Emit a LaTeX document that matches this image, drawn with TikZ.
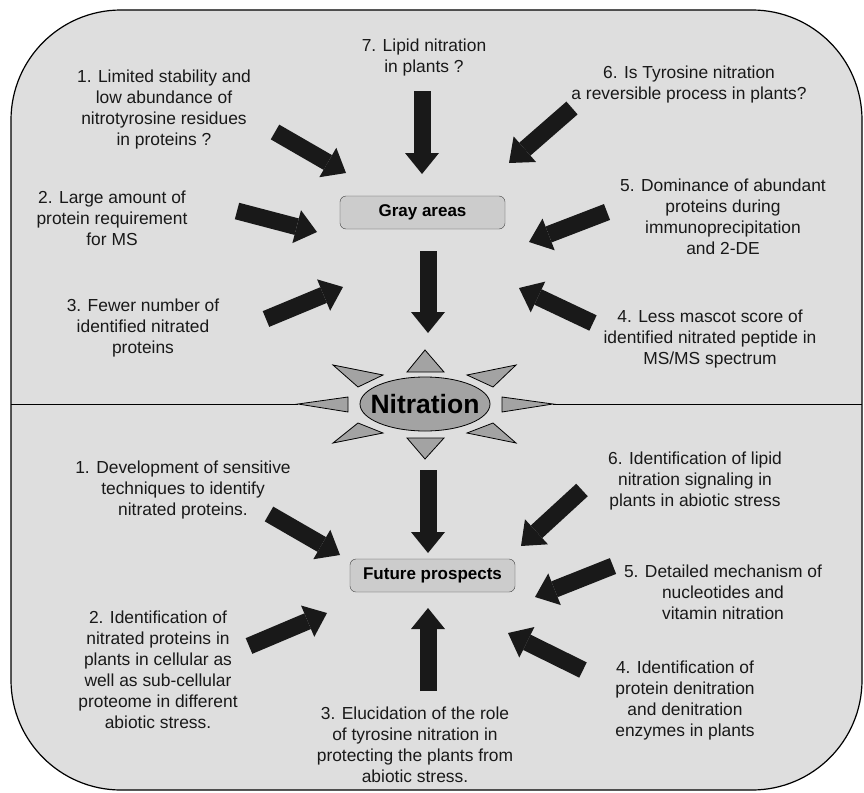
\documentclass[tikz,border=0pt]{standalone}
\usepackage{fontspec}
\setmainfont{Liberation Sans}
\usetikzlibrary{arrows.meta,positioning,shapes.geometric}
\definecolor{bgdots}{gray}{0.87}
\definecolor{boxgray}{gray}{0.80}
\definecolor{sungray}{gray}{0.64}
\definecolor{arrowblk}{gray}{0.10}

\begin{document}
\begin{tikzpicture}[x=1pt,y=-1pt]
\tikzstyle{note}=[align=center,inner sep=0pt,
font=\fontsize{17.4}{21}\selectfont,text=black!90]
\tikzstyle{headbox}=[draw=black!75,fill=boxgray,rounded corners=6pt,
minimum width=165pt,minimum height=33pt,inner sep=0pt,
font=\bfseries\fontsize{17}{20}\selectfont]
\tikzstyle{fat}=[draw=arrowblk,line width=17pt,
-{Triangle[length=21pt,width=34pt,line width=0pt,fill=arrowblk]}]
\tikzstyle{ray}=[draw=black,fill=sungray,line width=0.8pt]
\useasboundingbox (0,0) rectangle (864,792);

% frame and divider
\draw[fill=bgdots,line width=1.2pt,rounded corners=110pt] (11,10) rectangle (862,790);
\coordinate (divl) at (11,404);
\coordinate (divr) at (862,404);
\coordinate (rayl) at (298,404);
\coordinate (rayr) at (553,404);
\draw[line width=1pt] (divl) -- (rayl);
\draw[line width=1pt] (rayr) -- (divr);

% sun
\node[ellipse,draw=black,fill=sungray,line width=0.8pt,
minimum width=130pt,minimum height=54pt,inner sep=0pt] (nit) at (425,404) {};
\node[font=\bfseries\fontsize{26.5}{30}\selectfont] (nitlabel) at (nit.center) {Nitration};
\draw[ray] (407,372) -- (425,350) -- (444,372) -- cycle;
\draw[ray] (407,438) -- (425,459) -- (444,438) -- cycle;
\draw[ray] (348,397) -- (rayl) -- (348,412) -- cycle;
\draw[ray] (502,397) -- (rayr) -- (502,412) -- cycle;
\draw[ray] (333,365) -- (383,375) -- (358,387) -- cycle;
\draw[ray] (516,365) -- (467,375) -- (493,387) -- cycle;
\draw[ray] (333,443) -- (358,423) -- (383,433) -- cycle;
\draw[ray] (516,443) -- (493,423) -- (467,433) -- cycle;

% gray areas
\node[headbox] (gray) at (422.5,212.5) {Gray areas};
\node[note] (g1) at (164,110) {1. Limited stability and\\low abundance of\\nitrotyrosine residues\\in proteins ?};
\node[note] (g2) at (112,218) {2. Large amount of\\protein requirement\\for MS};
\node[note] (g3) at (143,328) {3. Fewer number of\\identified nitrated\\proteins};
\node[note] (g4) at (710,339) {4. Less mascot score of\\identified nitrated peptide in\\MS/MS spectrum};
\node[note] (g5) at (723,217) {5. Dominance of abundant\\proteins during\\immunoprecipitation\\and 2-DE};
\node[note] (g6) at (689,85) {6. Is Tyrosine nitration\\a reversible process in plants?};
\node[note] (g7) at (424,58) {7. Lipid nitration\\in plants ?};

% future prospects
\node[headbox] (future) at (432.5,575.5) {Future prospects};
\node[note] (f1) at (183,490) {1. Development of sensitive\\techniques to identify\\nitrated proteins.};
\node[note] (f2) at (158,670) {2. Identification of\\nitrated proteins in\\plants in cellular as\\well as sub-cellular\\proteome in different\\abiotic stress.};
\node[note] (f3) at (415,745) {3. Elucidation of the role\\of tyrosine nitration in\\protecting the plants from\\abiotic stress.};
\node[note] (f4) at (685,700) {4. Identification of\\protein denitration\\and denitration\\enzymes in plants};
\node[note] (f5) at (723,592) {5. Detailed mechanism of\\nucleotides and\\vitamin nitration};
\node[note] (f6) at (695,481) {6. Identification of lipid\\nitration signaling in\\plants in abiotic stress};

% arrow ends
\coordinate (ga1) at (275,132);  \coordinate (gb1) at (346,173);
\coordinate (ga2) at (237,211);  \coordinate (gb2) at (317,232);
\coordinate (ga3) at (266,319);  \coordinate (gb3) at (343,287);
\coordinate (ga4) at (593,323);  \coordinate (gb4) at (519,288);
\coordinate (ga5) at (607,212);  \coordinate (gb5) at (529,242);
\coordinate (ga6) at (572,108);  \coordinate (gb6) at (509,163);
\coordinate (ga7) at (422,91);   \coordinate (gb7) at (422,174);
\coordinate (gn1) at (428,251);  \coordinate (gn2) at (428,333);
\coordinate (fn1) at (428,470);  \coordinate (fn2) at (428,553);
\coordinate (fa1) at (269,514);  \coordinate (fb1) at (340,555);
\coordinate (fa2) at (249,646);  \coordinate (fb2) at (327,613);
\coordinate (fa3) at (428,691);  \coordinate (fb3) at (428,608);
\coordinate (fa4) at (583,670);  \coordinate (fb4) at (508,633);
\coordinate (fa5) at (613,566);  \coordinate (fb5) at (535,597);
\coordinate (fa6) at (582,490);  \coordinate (fb6) at (521,546);

\draw[fat] (ga1) -- (gb1) ;
\draw[fat] (ga2) -- (gb2) ;
\draw[fat] (ga3) -- (gb3) ;
\draw[fat] (ga4) -- (gb4) ;
\draw[fat] (ga5) -- (gb5) ;
\draw[fat] (ga6) -- (gb6) ;
\draw[fat] (ga7) -- (gb7) ;
\draw[fat] (gn1) -- (gn2) ;
\draw[fat] (fn1) -- (fn2) ;
\draw[fat] (fa1) -- (fb1) ;
\draw[fat] (fa2) -- (fb2) ;
\draw[fat] (fa3) -- (fb3) ;
\draw[fat] (fa4) -- (fb4) ;
\draw[fat] (fa5) -- (fb5) ;
\draw[fat] (fa6) -- (fb6) ;

\end{tikzpicture}
\end{document}
